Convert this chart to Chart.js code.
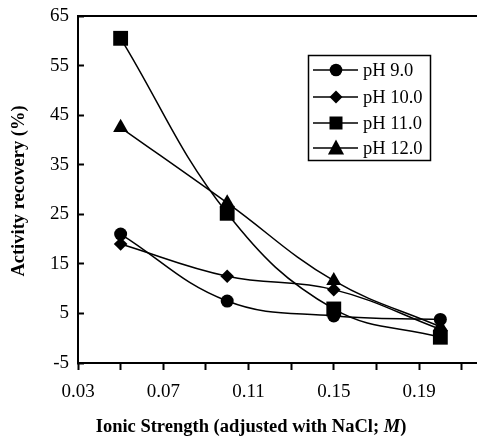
<!DOCTYPE html>
<html>
<head>
<meta charset="utf-8">
<script src="https://cdn.jsdelivr.net/npm/chart.js@4/dist/chart.umd.min.js"></script>
<style>
  body { margin: 0; background: #fff; }
  #wrap { width: 477px; height: 439px; }
</style>
</head>
<body>
<div id="wrap"><canvas id="chart" width="477" height="439"></canvas></div>
<script>
// ionic strength (M)
const ionicStrength = [0.05, 0.10, 0.15, 0.20];

// activity recovery (%)
const ph9 = [21.0, 7.5, 4.5, 3.8];
const ph10 = [19.0, 12.5, 9.8, 1.8];
const ph11 = [60.5, 25.2, 5.9, 0.2];
const ph12 = [42.5, 27.3, 11.6, 2.3];

const seriesNames = ['pH 9.0', 'pH 10.0', 'pH 11.0', 'pH 12.0'];

const xTickValues = [0.03, 0.05, 0.07, 0.09, 0.11, 0.13, 0.15, 0.17, 0.19, 0.21];
const xTickLabels = ['0.03', '', '0.07', '', '0.11', '', '0.15', '', '0.19', ''];
const yLabelValues = [-5, 5, 15, 25, 35, 45, 55, 65];

const FONT = '"Liberation Serif", "Times New Roman", serif';

function toPoints(values) {
    return values.map((v, i) => ({ x: ionicStrength[i], y: v }));
}

function makeSet(label, values, style, radius) {
    return {
        label: label,
        data: toPoints(values),
        borderColor: '#000',
        backgroundColor: '#000',
        borderWidth: 1.5,
        pointStyle: style,
        pointRadius: radius,
        pointBorderWidth: 0,
        pointBackgroundColor: '#000',
        tension: 0.4,
        fill: false
    };
}

function marker(ctx, style, x, y, r) {
    ctx.beginPath();
    if (style === 'circle') {
        ctx.arc(x, y, r, 0, Math.PI * 2);
    } else if (style === 'rect') {
        ctx.rect(x - r, y - r, 2 * r, 2 * r);
    } else if (style === 'rectRot') {
        ctx.moveTo(x - r, y);
        ctx.lineTo(x, y - r);
        ctx.lineTo(x + r, y);
        ctx.lineTo(x, y + r);
        ctx.closePath();
    } else {
        ctx.moveTo(x, y - r);
        ctx.lineTo(x + r * 0.95, y + r * 0.75);
        ctx.lineTo(x - r * 0.95, y + r * 0.75);
        ctx.closePath();
    }
    ctx.fill();
}

const legendStyles = [['circle', 6.3], ['rectRot', 6.5], ['rect', 6.5], ['triangle', 8.5]];

const decorations = {
    id: 'decorations',
    afterDraw(chart) {
        const ctx = chart.ctx;
        const area = chart.chartArea;
        ctx.save();

        // top frame line
        ctx.strokeStyle = '#000';
        ctx.lineWidth = 2;
        ctx.beginPath();
        ctx.moveTo(area.left - 1, area.top);
        ctx.lineTo(area.right, area.top);
        ctx.stroke();

        // legend box
        ctx.lineWidth = 1.5;
        ctx.strokeRect(308.5, 55.5, 122, 105);
        ctx.font = '18.5px ' + FONT;
        ctx.textBaseline = 'middle';
        ctx.textAlign = 'left';
        ctx.fillStyle = '#000';
        const rows = [70, 97, 123, 148];
        seriesNames.forEach((name, i) => {
            const y = rows[i];
            ctx.beginPath();
            ctx.moveTo(313, y);
            ctx.lineTo(358, y);
            ctx.stroke();
            marker(ctx, legendStyles[i][0], 336, y, legendStyles[i][1]);
            ctx.fillText(name, 363, y + 1);
        });

        // y axis title
        ctx.save();
        ctx.translate(19, 191);
        ctx.rotate(-Math.PI / 2);
        ctx.font = 'bold 18.5px ' + FONT;
        ctx.textAlign = 'center';
        ctx.fillText('Activity recovery (%)', 0, 0);
        ctx.restore();

        // x axis title with italic M
        const partA = 'Ionic Strength (adjusted with NaCl; ';
        const partB = 'M';
        const partC = ')';
        ctx.font = 'bold 18.5px ' + FONT;
        const wA = ctx.measureText(partA).width;
        const wC = ctx.measureText(partC).width;
        ctx.font = 'bold italic 18.5px ' + FONT;
        const wB = ctx.measureText(partB).width;
        let x = 251 - (wA + wB + wC) / 2;
        const ty = 427;
        ctx.textAlign = 'left';
        ctx.font = 'bold 18.5px ' + FONT;
        ctx.fillText(partA, x, ty);
        x += wA;
        ctx.font = 'bold italic 18.5px ' + FONT;
        ctx.fillText(partB, x, ty);
        x += wB;
        ctx.font = 'bold 18.5px ' + FONT;
        ctx.fillText(partC, x, ty);

        ctx.restore();
    }
};

new Chart(document.getElementById('chart'), {
    type: 'line',
    data: {
        datasets: [
            makeSet(seriesNames[0], ph9, 'circle', 6.5),
            makeSet(seriesNames[1], ph10, 'rectRot', 6.8),
            makeSet(seriesNames[2], ph11, 'rect', 10.5),
            makeSet(seriesNames[3], ph12, 'triangle', 8.7)
        ]
    },
    options: {
        responsive: false,
        animation: false,
        layout: { autoPadding: false, padding: { top: 16, left: 0, right: 0, bottom: 0 } },
        plugins: {
            legend: { display: false },
            tooltip: { enabled: false }
        },
        scales: {
            x: {
                type: 'linear',
                min: 0.03,
                max: 0.2172,
                afterBuildTicks: (scale) => {
                    scale.ticks = xTickValues.map(v => ({ value: v }));
                },
                afterFit: (scale) => { scale.height = 76; },
                ticks: {
                    color: '#000',
                    font: { family: FONT, size: 19 },
                    padding: 11,
                    maxRotation: 0,
                    autoSkip: false,
                    callback: (value) => {
                        const i = xTickValues.findIndex(v => Math.abs(v - value) < 1e-6);
                        return i >= 0 ? xTickLabels[i] : '';
                    }
                },
                grid: {
                    drawOnChartArea: false,
                    tickLength: 7,
                    tickWidth: 2,
                    tickColor: '#000'
                },
                border: { display: true, color: '#000', width: 2 }
            },
            y: {
                min: -5,
                max: 65,
                afterFit: (scale) => {
                    scale.width = 78;
                    scale.paddingTop = 0;
                    scale.paddingBottom = 0;
                },
                ticks: {
                    stepSize: 5,
                    color: '#000',
                    font: { family: FONT, size: 19 },
                    padding: 15,
                    callback: (value) => yLabelValues.includes(value) ? String(value) : ''
                },
                grid: {
                    drawOnChartArea: false,
                    tickLength: -6,
                    tickWidth: 2,
                    tickColor: '#000'
                },
                border: { display: true, color: '#000', width: 2 }
            }
        }
    },
    plugins: [decorations]
});
</script>
</body>
</html>
